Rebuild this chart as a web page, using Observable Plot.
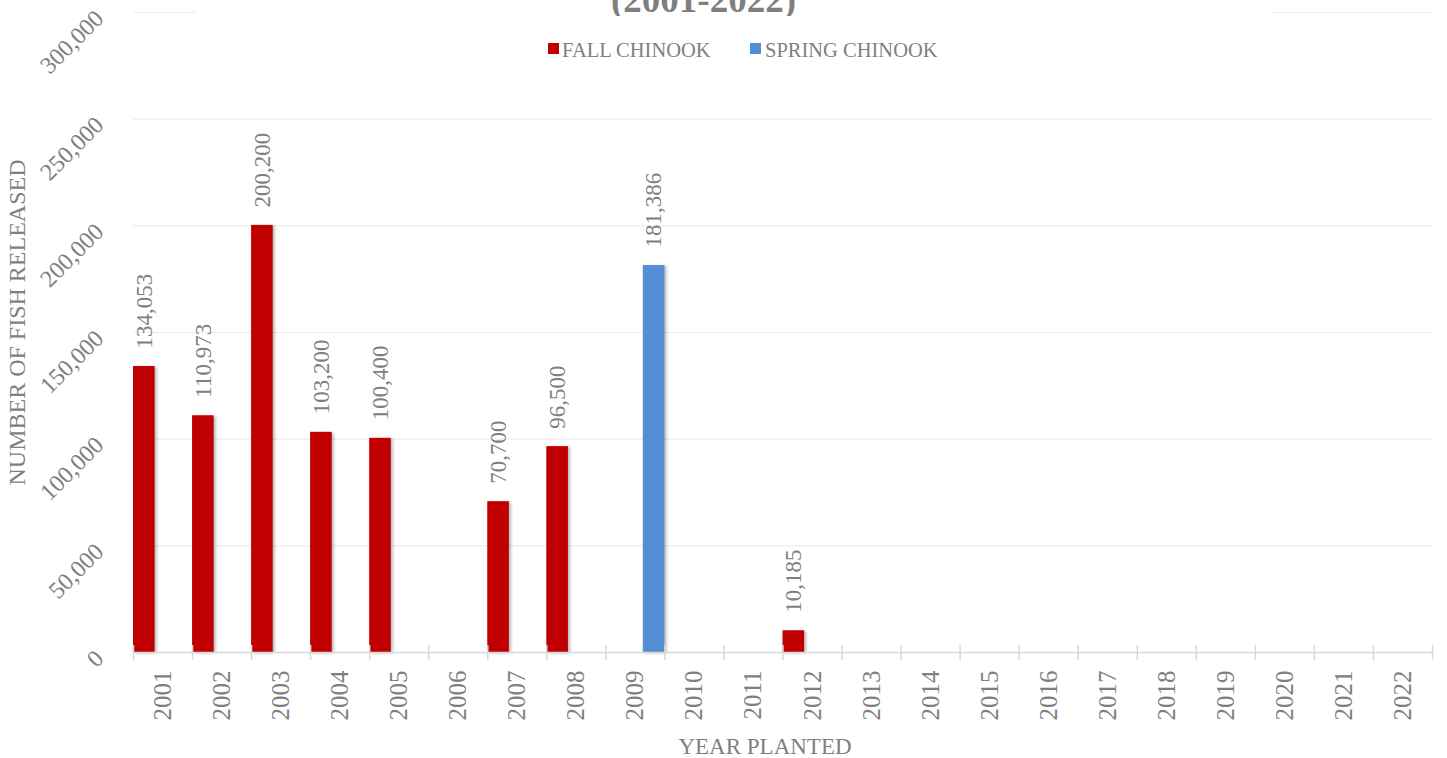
<!DOCTYPE html>
<html>
<head>
<meta charset="utf-8">
<script src="https://cdn.jsdelivr.net/npm/d3@7"></script>
<script src="https://cdn.jsdelivr.net/npm/@observablehq/plot@0.6"></script>
<style>
  html, body { margin: 0; padding: 0; background: #fff; }
  #wrap { position: relative; width: 1447px; height: 758px; overflow: hidden;
          font-family: "Liberation Serif", "Times New Roman", serif; color: #7f7f7f; }
  #chart { position: absolute; left: 0; top: 0; }
  #titlebox { position: absolute; left: 196px; top: 0; width: 1077px; height: 16px;
              background: #fff; overflow: hidden; }
  #title { position: absolute; left: 0; width: 1015px; top: -19px; font-size: 37px; line-height: 37px;
           font-weight: bold; text-align: center; white-space: nowrap; color: #7f7f7f; }
  .sw { position: absolute; top: 43px; width: 11px; height: 11px; }
  .lt { position: absolute; top: 40px; font-size: 20.5px; line-height: 20.5px; white-space: nowrap; color: #7f7f7f; }
</style>
</head>
<body>
<div id="wrap">
  <div id="chart"></div>
  <div id="titlebox"><div id="title">(2001-2022)</div></div>
  <div id="legend"></div>
</div>
<script>
// ---- data ----
const years = [2001, 2002, 2003, 2004, 2005, 2006, 2007, 2008, 2009, 2010, 2011,
               2012, 2013, 2014, 2015, 2016, 2017, 2018, 2019, 2020, 2021, 2022];
const fallValues   = [134053, 110973, 200200, 103200, 100400, null, 70700, 96500, null, null, null,
                      10185, null, null, null, null, null, null, null, null, null, null];
const springValues = [null, null, null, null, null, null, null, null, 181386, null, null,
                      null, null, null, null, null, null, null, null, null, null, null];
const seriesNames  = ["FALL CHINOOK", "SPRING CHINOOK"];
const seriesColors = ["#C00000", "#558ED5"];
const yTicks = [0, 50000, 100000, 150000, 200000, 250000, 300000];
const xTitle = "YEAR PLANTED";
const yTitle = "NUMBER OF FISH RELEASED";

// ---- table built from the arrays ----
const rows = [];
years.forEach((yr, i) => {
  if (fallValues[i] != null) rows.push({year: yr, series: seriesNames[0], value: fallValues[i]});
  if (springValues[i] != null) rows.push({year: yr, series: seriesNames[1], value: springValues[i]});
});

const barFrac = 0.366; // share of a year's band taken by one bar
const bx1 = d => d.series === seriesNames[0] ? d.year - 0.5 : d.year + 0.5 - barFrac;
const bx2 = d => d.series === seriesNames[0] ? d.year - 0.5 + barFrac : d.year + 0.5;
const bxm = d => (bx1(d) + bx2(d)) / 2;
const boundaries = years.map(y => y - 0.5).concat([years[years.length - 1] + 0.5]);
const fmt = d3.format(",");

const chart = Plot.plot({
  width: 1447,
  height: 758,
  marginLeft: 133,
  marginRight: 15,
  marginTop: 12,
  marginBottom: 106,
  style: {fontFamily: '"Liberation Serif", "Times New Roman", serif', color: "#7f7f7f", background: "transparent", overflow: "visible"},
  x: {domain: [years[0] - 0.5, years[years.length - 1] + 0.5]},
  y: {domain: [yTicks[0], yTicks[yTicks.length - 1]]},
  color: {domain: seriesNames, range: seriesColors},
  marks: [
    Plot.gridY(yTicks.slice(1), {stroke: "#ededed", strokeOpacity: 1, strokeWidth: 1.2}),
    Plot.rectY(rows, {x1: bx1, x2: bx2, y: "value", fill: "series"}),
    Plot.ruleY([0], {stroke: "#d9d9d9", strokeWidth: 1.5}),
    Plot.ruleX(boundaries, {x: d => d, y1: 0, y2: 0, insetTop: -7, insetBottom: -8, stroke: "#d9d9d9", strokeWidth: 1.5}),
    Plot.axisX({ticks: years, tickFormat: d => String(d), tickRotate: -90, tickSize: 0, tickPadding: 18, fontSize: 25, label: null}),
    Plot.axisY({ticks: yTicks, tickFormat: fmt, tickRotate: -45, tickSize: 0, tickPadding: 34, fontSize: 24, label: null, dy: 2}),
    Plot.text(rows, {x: bxm, y: "value", text: d => fmt(d.value), rotate: -90, textAnchor: "start",
                     dy: -18, fontSize: 23, fill: "#7f7f7f"}),
    Plot.text([yTitle], {frameAnchor: "left", text: d => d, rotate: -90, textAnchor: "middle", lineAnchor: "middle",
                         dx: -116, dy: -10, fontSize: 24, fill: "#7f7f7f"}),
    Plot.text([xTitle], {frameAnchor: "bottom", text: d => d, lineAnchor: "bottom", dx: -18, dy: 101, fontSize: 23, fill: "#7f7f7f"})
  ]
});
document.getElementById("chart").appendChild(chart);

// subtle bar shadow like the original
d3.select(chart).selectAll('g[aria-label="rect"] rect')
  .style("filter", "drop-shadow(2px 1px 1.5px rgba(0,0,0,0.28))");

// ---- legend ----
const legend = document.getElementById("legend");
const legendPos = [{sw: 548, tx: 562}, {sw: 750, tx: 765}];
seriesNames.forEach((name, i) => {
  const s = document.createElement("div");
  s.className = "sw";
  s.style.left = legendPos[i].sw + "px";
  s.style.background = seriesColors[i];
  legend.appendChild(s);
  const t = document.createElement("div");
  t.className = "lt";
  t.style.left = legendPos[i].tx + "px";
  t.textContent = name;
  legend.appendChild(t);
});
</script>
</body>
</html>
